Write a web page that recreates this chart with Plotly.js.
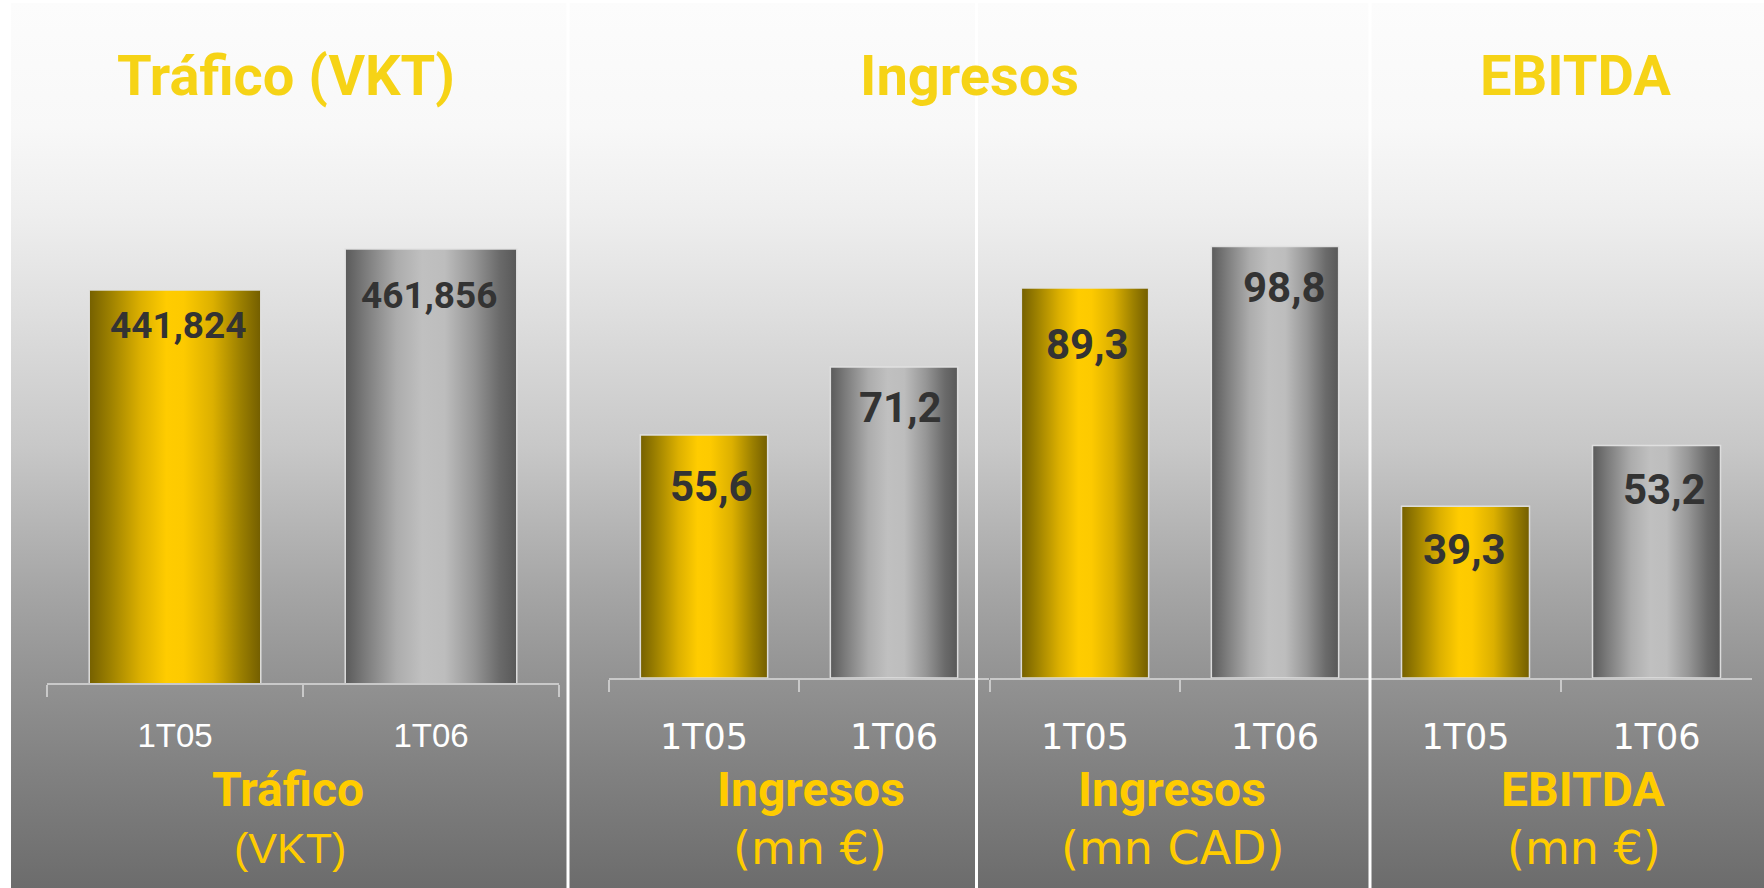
<!DOCTYPE html>
<html>
<head>
<meta charset="utf-8">
<script src="https://cdn.plot.ly/plotly-3.0.1.min.js"></script>
<style>
  html, body { margin: 0; padding: 0; background: #ffffff; }
  #wrap { position: relative; width: 1764px; height: 888px; overflow: hidden; background: #ffffff; }
  #bg { position: absolute; left: 11px; top: 3px; right: 0; bottom: 0;
        background: linear-gradient(to bottom, #fcfcfc 0%, #f8f8f8 14%, #eeeeee 24%, #e0e0e0 34%, #c8c8c8 50%, #a6a6a6 66%, #939393 76%, #828282 86%, #6c6c6c 100%); }
  #plot { position: absolute; left: 0; top: 0; width: 1764px; height: 888px; }
</style>
</head>
<body>
<div id="wrap"><div id="bg"></div><div id="plot"></div></div>
<script>
// ---------------- data ----------------
const periods = ['1T05', '1T06'];
const traficoVKT = [441.824, 461.856];
const ingresosEUR = [55.6, 71.2];
const ingresosCAD = [89.3, 98.8];
const ebitdaEUR = [39.3, 53.2];
const headerTitles = ['Tráfico (VKT)', 'Ingresos', 'EBITDA'];
const panelNames = ['Tráfico', 'Ingresos', 'Ingresos', 'EBITDA'];
const panelUnits = ['(VKT)', '(mn €)', '(mn CAD)', '(mn €)'];

// ---------------- layout helpers ----------------
const W = 1764, H = 888;
const px = v => v / W;
const py = v => 1 - v / H;

const GOLD = '#FFCC00', SILVER = '#BEBEBE';
const TITLE_COLOR = '#F6D316';

const panels = [
  { vals: traficoVKT, dec: 3, xd: [47, 559], yd: [133, 683], yr: [250, 518.5],
    tickFont: { family: 'Liberation Sans, Arial, sans-serif', size: 33, color: '#ffffff' },
    valSize: 37, standoff: 22,
    nameX: 288, unitX: 290, unitFont: 'Liberation Sans, Arial, sans-serif', unitSize: 43,
    nudge: [[3, -35], [-2, -46]] },
  { vals: ingresosEUR, dec: 1, xd: [609, 989], yd: [128, 678], yr: [0, 125.9],
    tickFont: { family: 'DejaVu Sans, Verdana, sans-serif', size: 35, color: '#ffffff' },
    valSize: 42, standoff: 27,
    nameX: 811, unitX: 810, unitFont: 'DejaVu Sans, Verdana, sans-serif', unitSize: 46,
    nudge: [[7, -51], [6, -41]] },
  { vals: ingresosCAD, dec: 1, xd: [990, 1370], yd: [128, 678], yr: [0, 125.9],
    tickFont: { family: 'DejaVu Sans, Verdana, sans-serif', size: 35, color: '#ffffff' },
    valSize: 42, standoff: 27,
    nameX: 1172, unitX: 1173, unitFont: 'DejaVu Sans, Verdana, sans-serif', unitSize: 46,
    nudge: [[2, -57], [9, -41]] },
  { vals: ebitdaEUR, dec: 1, xd: [1370, 1752], yd: [128, 678], yr: [0, 125.9],
    tickFont: { family: 'DejaVu Sans, Verdana, sans-serif', size: 35, color: '#ffffff' },
    valSize: 42, standoff: 27,
    nameX: 1583, unitX: 1584, unitFont: 'DejaVu Sans, Verdana, sans-serif', unitSize: 46,
    nudge: [[-1, -43], [8, -44]] }
];

const fmt = (v, d) => v.toFixed(d).replace('.', ',');

const data = [];
const layout = {
  width: W, height: H,
  margin: { l: 0, r: 0, t: 0, b: 0, pad: 0 },
  paper_bgcolor: 'rgba(0,0,0,0)',
  plot_bgcolor: 'rgba(0,0,0,0)',
  showlegend: false,
  annotations: [],
  shapes: []
};

panels.forEach((p, i) => {
  const n = i + 1;
  const xa = n === 1 ? 'x' : 'x' + n;
  const ya = n === 1 ? 'y' : 'y' + n;
  data.push({
    type: 'bar',
    x: periods,
    y: p.vals,
    xaxis: xa, yaxis: ya,
    width: 0.67,
    marker: { color: [GOLD, SILVER], line: { color: 'rgba(225,225,225,0.95)', width: 1.5 } },
    hoverinfo: 'skip'
  });
  layout['xaxis' + (n === 1 ? '' : n)] = {
    domain: [px(p.xd[0]), px(p.xd[1])],
    anchor: ya,
    type: 'category',
    range: [-0.5, 1.5],
    showline: true, linecolor: '#c9c9c9', linewidth: 2,
    ticks: 'outside', ticklen: 12, tickwidth: 2, tickcolor: '#c9c9c9',
    tickson: 'boundaries',
    ticklabelstandoff: p.standoff,
    showgrid: false, zeroline: false,
    tickfont: p.tickFont,
    fixedrange: true
  };
  layout['yaxis' + (n === 1 ? '' : n)] = {
    domain: [py(p.yd[1]), py(p.yd[0])],
    anchor: xa,
    range: p.yr,
    visible: false,
    fixedrange: true
  };
  // value labels
  periods.forEach((c, j) => {
    layout.annotations.push({
      xref: xa, yref: ya, x: c, y: p.vals[j],
      text: fmt(p.vals[j], p.dec),
      showarrow: false, xanchor: 'center', yanchor: 'middle',
      xshift: p.nudge[j][0], yshift: p.nudge[j][1],
      font: { family: 'Roboto, sans-serif', size: p.valSize, color: '#333333', weight: 'bold' }
    });
  });
  // bottom labels
  layout.annotations.push({
    xref: 'paper', yref: 'paper', x: px(p.nameX), y: py(789),
    text: '<b>' + panelNames[i] + '</b>', showarrow: false,
    xanchor: 'center', yanchor: 'middle',
    font: { family: 'Roboto, sans-serif', size: 48, color: GOLD }
  });
  layout.annotations.push({
    xref: 'paper', yref: 'paper', x: px(p.unitX), y: py(848),
    text: panelUnits[i], showarrow: false,
    xanchor: 'center', yanchor: 'middle',
    font: { family: p.unitFont, size: p.unitSize, color: GOLD }
  });
});

// header titles
const titleX = [286, 969, 1575];
headerTitles.forEach((t, k) => {
  layout.annotations.push({
    xref: 'paper', yref: 'paper', x: px(titleX[k]), y: py(76),
    text: '<b>' + t + '</b>', showarrow: false,
    xanchor: 'center', yanchor: 'middle',
    font: { family: 'Roboto, sans-serif', size: 56, color: TITLE_COLOR }
  });
});

// white panel separators
[568, 976.5, 1370].forEach(xp => {
  layout.shapes.push({
    type: 'line', xref: 'paper', yref: 'paper',
    x0: px(xp), x1: px(xp), y0: 0, y1: py(3),
    line: { color: '#ffffff', width: 3 }, layer: 'above'
  });
});

function addGrad(defs, id, stops) {
  const ns = 'http://www.w3.org/2000/svg';
  const g = document.createElementNS(ns, 'linearGradient');
  g.setAttribute('id', id);
  g.setAttribute('x1', '0'); g.setAttribute('y1', '0');
  g.setAttribute('x2', '1'); g.setAttribute('y2', '0');
  stops.forEach(s => {
    const st = document.createElementNS(ns, 'stop');
    st.setAttribute('offset', s[0]);
    st.setAttribute('stop-color', s[1]);
    g.appendChild(st);
  });
  defs.appendChild(g);
}

Plotly.newPlot('plot', data, layout, { staticPlot: true, displayModeBar: false }).then(gd => {
  const svg = gd.querySelector('svg.main-svg');
  let defs = svg.querySelector('defs');
  if (!defs) { defs = document.createElementNS('http://www.w3.org/2000/svg', 'defs'); svg.insertBefore(defs, svg.firstChild); }
  addGrad(defs, 'gGold', [[0, '#756000'], [0.12, '#9c8000'], [0.3, '#dcb000'], [0.45, '#ffcc00'], [0.55, '#fdca00'], [0.72, '#dcb000'], [0.88, '#9c8000'], [1, '#735e00']]);
  addGrad(defs, 'gSilver', [[0, '#5a5a5a'], [0.12, '#7c7c7c'], [0.3, '#acacac'], [0.45, '#c0c0c0'], [0.58, '#bdbdbd'], [0.75, '#969696'], [0.9, '#6a6a6a'], [1, '#585858']]);
  gd.querySelectorAll('.barlayer .point path').forEach(p => {
    const f = p.style.fill || '';
    if (f.indexOf('255, 204, 0') >= 0) p.style.fill = 'url(#gGold)';
    else p.style.fill = 'url(#gSilver)';
  });
});
</script>
</body>
</html>
